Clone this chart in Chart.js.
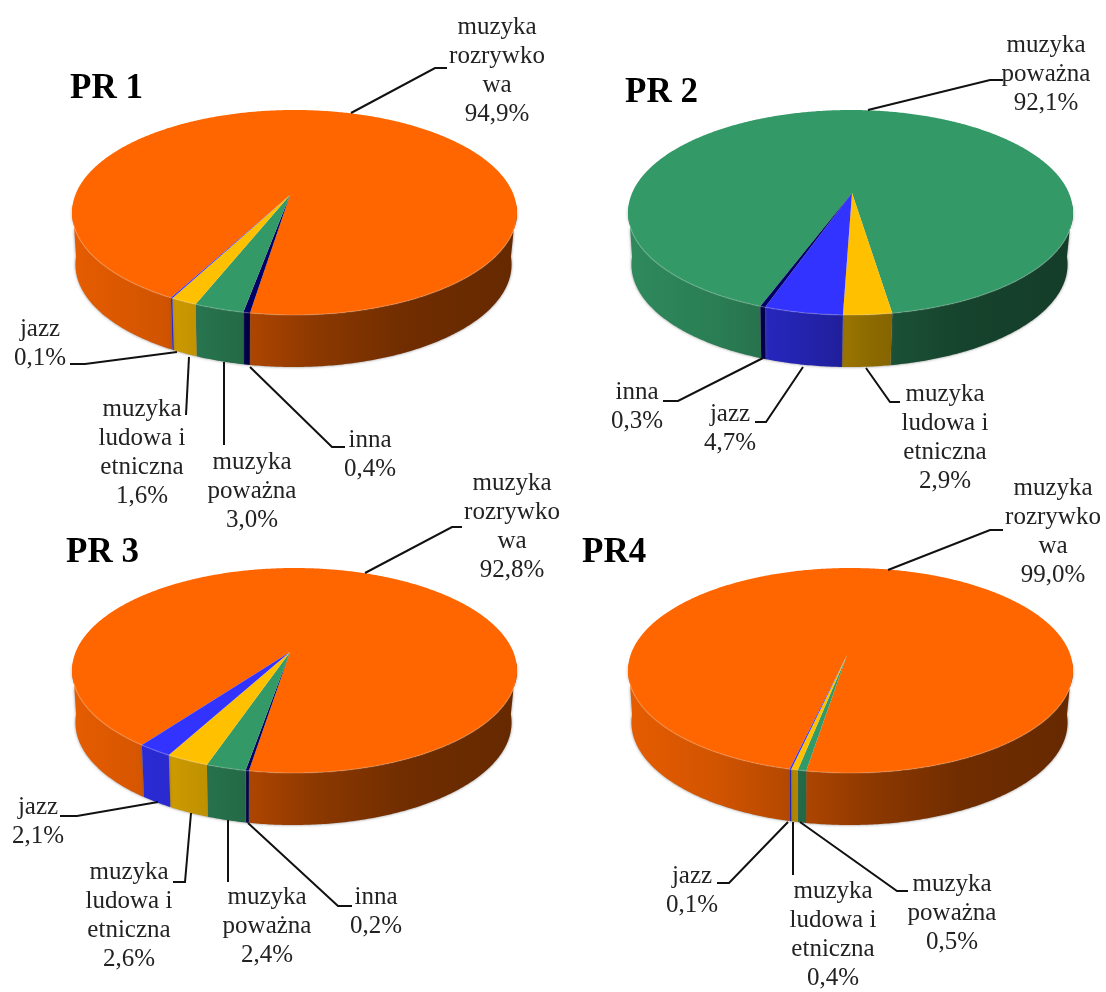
<!DOCTYPE html>
<html>
<head>
<meta charset="utf-8">
<title>PR 1-4</title>
<script src="https://cdn.jsdelivr.net/npm/chart.js@4"></script>
<style>
  html, body { margin: 0; background: #fff; }
  #wrap { position: relative; width: 1106px; height: 992px; overflow: hidden; }
  canvas { position: absolute; left: 0; top: 0; }
</style>
</head>
<body>
<div id="wrap">
  <canvas id="pr1" width="1106" height="992"></canvas>
  <canvas id="pr2" width="1106" height="992"></canvas>
  <canvas id="pr3" width="1106" height="992"></canvas>
  <canvas id="pr4" width="1106" height="992"></canvas>
</div>
<script>
// values, in the order the slices go round each pie
const pr1Names = ['rozrywkowa', 'inna', 'powazna', 'ludowa', 'jazz'];
const pr1Values = [94.9, 0.4, 3.0, 1.6, 0.1];
const pr2Names = ['powazna', 'ludowa', 'jazz', 'inna'];
const pr2Values = [92.1, 2.9, 4.7, 0.3];
const pr3Names = ['rozrywkowa', 'inna', 'powazna', 'ludowa', 'jazz'];
const pr3Values = [92.8, 0.2, 2.4, 2.6, 2.1];
const pr4Names = ['rozrywkowa', 'powazna', 'ludowa', 'jazz'];
const pr4Values = [99.0, 0.5, 0.4, 0.1];

const nameLines = {
  rozrywkowa: ['muzyka', 'rozrywko', 'wa'],
  powazna: ['muzyka', 'poważna'],
  ludowa: ['muzyka', 'ludowa i', 'etniczna'],
  jazz: ['jazz'],
  inna: ['inna']
};
const nameColors = {
  rozrywkowa: '#FF6600',
  powazna: '#339966',
  ludowa: '#FFC000',
  jazz: '#3333FF',
  inna: '#000066'
};

// pie shape on the page
const rimX = 218, rimY = 98.4, tilt = 0.2, wallHeight = 52;

const pies = [
  { id: 'pr1', title: 'PR 1', titleAt: [70, 98], names: pr1Names, values: pr1Values, rotation: -152.2,
    center: [294.5, 192], apex: [290, 195],
    labelAt: { rozrywkowa: [497, 28], inna: [370, 441], powazna: [252, 463], ludowa: [142, 410], jazz: [40, 330] },
    leaders: [
      [[351, 113], [435, 68], [447, 68]],
      [[177, 352], [85, 364], [70, 364]],
      [[189, 357], [186, 415]],
      [[224, 362], [224, 445]],
      [[250, 367], [332, 447], [345, 447]]
    ] },
  { id: 'pr2', title: 'PR 2', titleAt: [625, 102], names: pr2Names, values: pr2Values, rotation: -160.4,
    center: [850.5, 192], apex: [852, 193],
    labelAt: { powazna: [1046, 46], ludowa: [945, 395], jazz: [730, 415], inna: [637, 393] },
    leaders: [
      [[868, 110], [990, 80], [1003, 80]],
      [[763, 358], [678, 401], [663, 401]],
      [[803, 367], [766, 422], [755, 422]],
      [[866, 368], [890, 402], [900, 402]]
    ] },
  { id: 'pr3', title: 'PR 3', titleAt: [66, 562], names: pr3Names, values: pr3Values, rotation: -144.08,
    center: [294.5, 650], apex: [290, 652],
    labelAt: { rozrywkowa: [512, 484], inna: [376, 898], powazna: [267, 898], ludowa: [129, 873], jazz: [38, 808] },
    leaders: [
      [[365, 573], [452, 527], [462, 527]],
      [[158, 802], [77, 816], [60, 816]],
      [[191, 813], [185, 882], [173, 882]],
      [[228, 820], [228, 882]],
      [[248, 823], [338, 906], [352, 906]]
    ] },
  { id: 'pr4', title: 'PR4', titleAt: [582, 562], names: pr4Names, values: pr4Values, rotation: -167,
    center: [850.5, 650], apex: [847, 655],
    labelAt: { rozrywkowa: [1053, 489], powazna: [952, 885], ludowa: [833, 892], jazz: [692, 877] },
    leaders: [
      [[888, 570], [990, 530], [1003, 530]],
      [[788, 822], [729, 883], [717, 883]],
      [[793, 822], [793, 875]],
      [[800, 822], [897, 891], [908, 891]]
    ] }
];

function rimPoint(pie, angle) {
  const d = 1 - tilt * Math.sin(angle);
  return [pie.center[0] + rimX * Math.cos(angle) / d, pie.center[1] + rimY * Math.sin(angle) / d];
}

function shade(hex, f) {
  const n = parseInt(hex.slice(1), 16);
  return 'rgb(' + [(n >> 16) & 255, (n >> 8) & 255, n & 255].map(c => Math.round(c * f)).join(',') + ')';
}

function sideGradient(ctx, pie, color) {
  const g = ctx.createLinearGradient(pie.center[0] - 222, 0, pie.center[0] + 222, 0);
  [[0, 0.9], [0.2, 0.82], [0.4, 0.68], [0.55, 0.55], [0.75, 0.44], [1, 0.4]].forEach(s => g.addColorStop(s[0], shade(color, s[1])));
  return g;
}

function arcSteps(arc) {
  const steps = Math.max(2, Math.ceil((arc.endAngle - arc.startAngle) / 0.01));
  const out = [];
  for (let i = 0; i <= steps; i++) out.push(arc.startAngle + (arc.endAngle - arc.startAngle) * i / steps);
  return out;
}

// the runs of a slice's rim that face the viewer; a big slice wraps round the back
function frontRuns(angles, limit) {
  const runs = [];
  let run = null;
  angles.forEach(a => {
    if (Math.sin(a) > limit) {
      if (!run) { run = []; runs.push(run); }
      run.push(a);
    } else run = null;
  });
  return runs;
}

const pie3d = {
  id: 'pie3d',
  beforeDatasetDraw(chart, args, opts) {
    const pie = opts.pie, ctx = chart.ctx, arcs = args.meta.data;
    ctx.save();
    // side wall
    arcs.forEach(arc => {
      frontRuns(arcSteps(arc), 0.12).forEach(run => {
        const top = run.map(a => rimPoint(pie, a));
        const cx = pie.center[0];
        const bottom = top.map(p => [cx - 1 + (p[0] - cx) * 0.98, p[1] + wallHeight]).reverse();
        ctx.beginPath();
        top.concat(bottom).forEach((p, i) => i ? ctx.lineTo(p[0], p[1]) : ctx.moveTo(p[0], p[1]));
        ctx.closePath();
        ctx.fillStyle = sideGradient(ctx, pie, arc.options.backgroundColor);
        ctx.shadowColor = 'rgba(90,90,90,0.7)';
        ctx.shadowBlur = 3;
        ctx.fill();
        ctx.shadowBlur = 0;
      });
    });
    // top face
    arcs.forEach(arc => {
      const angles = arcSteps(arc);
      ctx.beginPath();
      ctx.moveTo(pie.apex[0], pie.apex[1]);
      angles.forEach(a => { const p = rimPoint(pie, a); ctx.lineTo(p[0], p[1]); });
      ctx.closePath();
      ctx.fillStyle = arc.options.backgroundColor;
      ctx.fill();
      // light edge along the front of the rim only
      frontRuns(angles, 0.3).forEach(run => {
        ctx.beginPath();
        run.forEach((a, i) => {
          const p = rimPoint(pie, a);
          i ? ctx.lineTo(p[0], p[1]) : ctx.moveTo(p[0], p[1]);
        });
        ctx.strokeStyle = 'rgba(255,255,255,0.16)';
        ctx.lineWidth = 1.5;
        ctx.stroke();
      });
    });
    ctx.restore();
    return false;
  },
  afterDraw(chart, args, opts) {
    const pie = opts.pie, ctx = chart.ctx;
    ctx.save();
    ctx.strokeStyle = '#111';
    ctx.lineWidth = 2;
    pie.leaders.forEach(line => {
      ctx.beginPath();
      line.forEach((p, i) => i ? ctx.lineTo(p[0], p[1]) : ctx.moveTo(p[0], p[1]));
      ctx.stroke();
    });
    ctx.fillStyle = '#222';
    ctx.textAlign = 'center';
    ctx.textBaseline = 'alphabetic';
    ctx.font = '25px "Liberation Serif"';
    pie.names.forEach((name, i) => {
      const at = pie.labelAt[name];
      const lines = nameLines[name].concat(pie.values[i].toFixed(1).replace('.', ',') + '%');
      lines.forEach((text, k) => ctx.fillText(text, at[0], at[1] + 6 + k * 29));
    });
    ctx.textAlign = 'left';
    ctx.font = 'bold 35px "Liberation Serif"';
    ctx.fillStyle = '#000';
    ctx.fillText(pie.title, pie.titleAt[0], pie.titleAt[1]);
    ctx.restore();
  }
};

pies.forEach(pie => {
  new Chart(document.getElementById(pie.id), {
    type: 'pie',
    data: {
      labels: pie.names,
      datasets: [{
        data: pie.values,
        backgroundColor: pie.names.map(n => nameColors[n]),
        borderWidth: 0
      }]
    },
    options: {
      responsive: false,
      animation: false,
      rotation: pie.rotation,
      plugins: {
        legend: { display: false },
        tooltip: { enabled: false },
        pie3d: { pie: pie }
      }
    },
    plugins: [pie3d]
  });
});
</script>
</body>
</html>
